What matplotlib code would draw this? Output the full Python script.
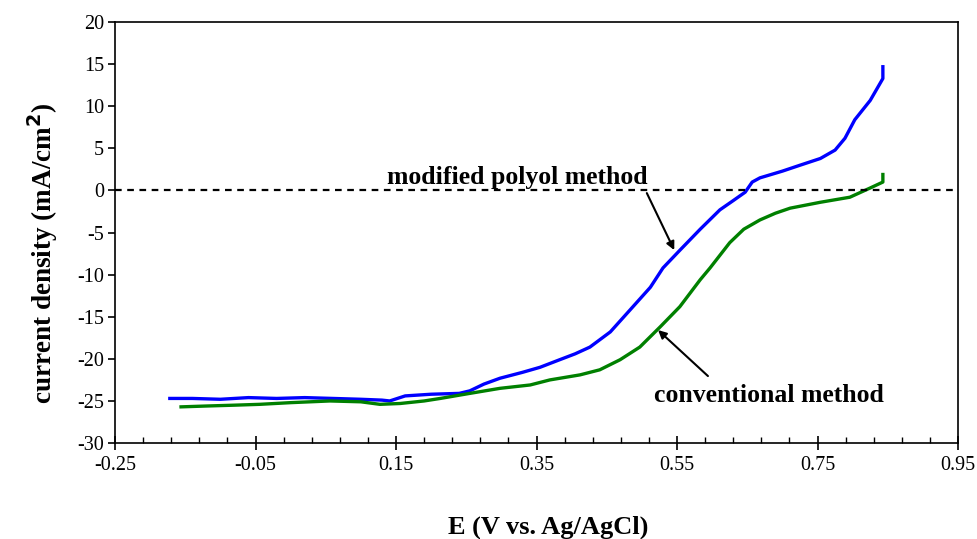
import matplotlib.pyplot as plt
from matplotlib.ticker import MultipleLocator, FixedLocator

# potential (V vs Ag/AgCl) and current density (mA/cm2)
polyol_E = [-0.172, -0.14, -0.10, -0.06, -0.02, 0.02, 0.06, 0.10, 0.13, 0.141,
            0.163, 0.20, 0.24, 0.255, 0.275, 0.298, 0.33, 0.355, 0.383, 0.405,
            0.426, 0.455, 0.483, 0.512, 0.530, 0.554, 0.583, 0.611, 0.630,
            0.647, 0.657, 0.668, 0.700, 0.725, 0.754, 0.775, 0.789, 0.803,
            0.825, 0.843, 0.843]
polyol_j = [-24.7, -24.7, -24.8, -24.6, -24.7, -24.6, -24.7, -24.8, -24.9, -25.0,
            -24.4, -24.2, -24.1, -23.8, -23.0, -22.3, -21.6, -21.0, -20.1, -19.4,
            -18.6, -16.8, -14.2, -11.5, -9.2, -7.1, -4.6, -2.3, -1.2,
            -0.2, 1.0, 1.5, 2.3, 3.0, 3.8, 4.8, 6.2, 8.4,
            10.7, 13.3, 14.7]

conv_E = [-0.156, -0.12, -0.08, -0.044, 0.0, 0.056, 0.10, 0.127, 0.156, 0.19,
          0.213, 0.255, 0.298, 0.341, 0.369, 0.412, 0.440, 0.469, 0.497, 0.526,
          0.554, 0.583, 0.597, 0.625, 0.645, 0.668, 0.690, 0.711, 0.754, 0.796,
          0.825, 0.843, 0.843]
conv_j = [-25.7, -25.6, -25.5, -25.4, -25.2, -25.0, -25.1, -25.4, -25.3, -25.0,
          -24.7, -24.1, -23.5, -23.1, -22.5, -21.9, -21.3, -20.1, -18.6, -16.2,
          -13.8, -10.6, -9.2, -6.2, -4.6, -3.5, -2.7, -2.1, -1.4, -0.8,
          0.3, 1.0, 1.9]

plt.rcParams['font.family'] = 'Liberation Serif'
plt.rcParams['axes.unicode_minus'] = False

fig = plt.figure(figsize=(9.78, 5.39), dpi=100)
ax = fig.add_axes([0.1176, 0.178, 0.862, 0.781])

ax.plot(polyol_E, polyol_j, color='#0000ff', lw=2.4)
ax.plot(conv_E, conv_j, color='#008000', lw=2.4)
ax.axhline(0, color='black', ls=(0, (3, 2.5)), lw=1.6)

ax.set_xlim(-0.25, 0.95)
ax.set_ylim(-30, 20)
ax.xaxis.set_major_locator(FixedLocator([-0.25, -0.05, 0.15, 0.35, 0.55, 0.75, 0.95]))
ax.xaxis.set_minor_locator(MultipleLocator(0.04, offset=-0.25))
ax.yaxis.set_major_locator(MultipleLocator(5))
ax.set_xticklabels(['-0.25', '-0.05', '0.15', '0.35', '0.55', '0.75', '0.95'])
ax.tick_params(axis='x', which='major', direction='inout', length=10, width=1.2,
               labelsize=14.5, pad=4)
ax.tick_params(axis='x', which='minor', direction='in', length=4, width=1.0)
ax.tick_params(axis='y', which='major', direction='out', length=5, width=1.2,
               labelsize=14.5, pad=3)
for s in ax.spines.values():
    s.set_linewidth(1.2)

ax.set_xlabel('E (V vs. Ag/AgCl)', fontsize=19, fontweight='bold')
ax.xaxis.set_label_coords(0.514, -0.172)
ax.set_ylabel('current density (mA/cm$^\\mathbf{2}$)', fontsize=19.5,
              fontweight='bold')
ax.yaxis.set_label_coords(-0.065, 0.45)

arrow = dict(arrowstyle='-|>', color='black', lw=1.5,
             shrinkA=0, shrinkB=0, mutation_scale=12)
ax.text(0.322, 1.5, 'modified polyol method', ha='center', va='center',
        fontsize=18.5, fontweight='bold')
ax.annotate('', xy=(0.546, -7.08), xytext=(0.507, -0.31), arrowprops=arrow)
ax.annotate('', xy=(0.523, -16.58), xytext=(0.594, -22.04), arrowprops=arrow)
ax.text(0.681, -24.4, 'conventional method', ha='center', va='center',
        fontsize=18.5, fontweight='bold')

fig.savefig('out.png', dpi=100)
